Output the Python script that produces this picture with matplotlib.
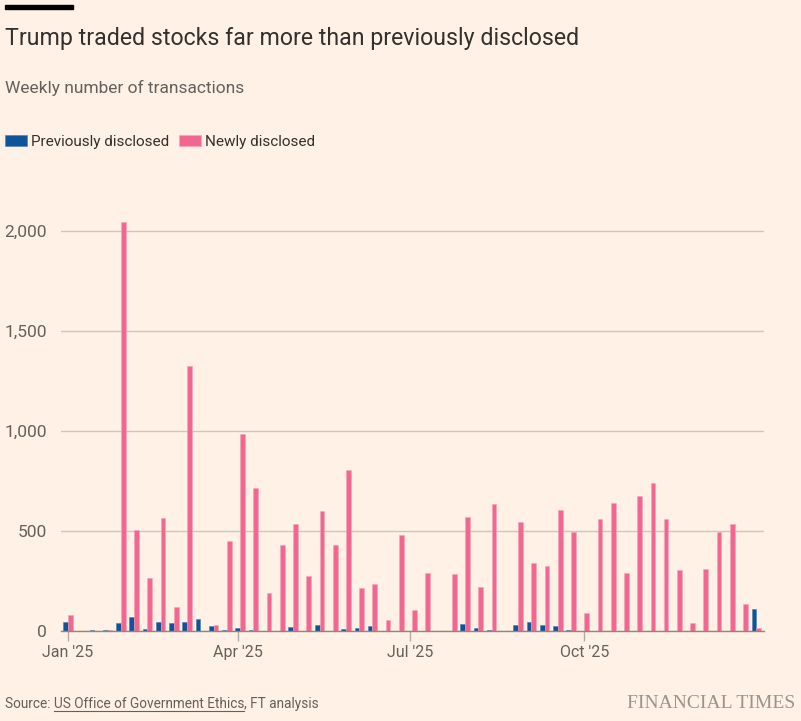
import numpy as np
import pandas as pd
import matplotlib
matplotlib.use("Agg")
import matplotlib.pyplot as plt
import matplotlib.dates as mdates

# weekly counts, weeks starting 1 Jan 2025
week_start = pd.date_range("2025-01-01", periods=53, freq="7D")
previously = [45, 2, 7, 7, 42, 70, 12, 43, 42, 47, 58, 25, 7, 15, 3, 1, 0, 18, 0, 32,
              2, 8, 17, 23, 0, 0, 0, 1, 1, 0, 37, 13, 7, 0, 32, 47, 30, 23, 5, 1,
              0, 0, 0, 0, 0, 0, 0, 0, 0, 0, 0, 0, 110]
newly = [80, 1, 0, 6, 2045, 505, 267, 565, 122, 1325, 0, 28, 452, 987, 717, 192, 430, 533,
         275, 598, 428, 803, 217, 237, 57, 482, 103, 292, 1, 283, 572, 220, 637, 0, 543,
         340, 327, 605, 495, 90, 562, 640, 290, 675, 740, 562, 305, 38, 310, 495, 535, 135, 17]
series_names = ["Previously disclosed", "Newly disclosed"]
y_ticks = [0, 500, 1000, 1500, 2000]
x_ticks = ["2025-01-01", "2025-04-01", "2025-07-01", "2025-10-01"]
x_tick_labels = ["Jan '25", "Apr '25", "Jul '25", "Oct '25"]

bg = "#FFF1E5"
blue = "#0F5499"
pink = "#F2678F"
text_dark = "#33302E"
text_mid = "#66605C"

plt.rcParams["font.family"] = ["Roboto", "DejaVu Sans"]

W, H = 801, 721
fig = plt.figure(figsize=(W / 100, H / 100), dpi=100, facecolor=bg)

# axes box in pixels
left, right, bottom, top = 61, 764, 631, 191
ax = fig.add_axes([left / W, 1 - bottom / H, (right - left) / W, (bottom - top) / H])
ax.set_facecolor(bg)

x = mdates.date2num(week_start)
bw = 2.5
ax.bar(x - bw / 2, previously, width=bw, color=blue, edgecolor="#4a7fb5",
       linewidth=0.4, label=series_names[0], zorder=3)
ax.bar(x + bw / 2, newly, width=bw, color=pink, edgecolor="#f7a3bb",
       linewidth=0.4, label=series_names[1], zorder=3)

ax.set_ylim(0, 2200)
ax.set_xlim(mdates.date2num(pd.Timestamp("2025-01-01")) - 3.7,
            mdates.date2num(pd.Timestamp("2026-01-04")))
ax.set_yticks(y_ticks)
ax.set_yticklabels([f"{v:,}" for v in y_ticks])
ax.yaxis.grid(True, color="#CEC6B9", linewidth=1, zorder=0)
ax.set_xticks(mdates.date2num(pd.to_datetime(x_ticks)))
ax.set_xticklabels(x_tick_labels)

for s in ["top", "right", "left"]:
    ax.spines[s].set_visible(False)
ax.spines["bottom"].set_color("#8f8780")
ax.spines["bottom"].set_linewidth(1)
ax.spines["bottom"].set_zorder(4)
ax.tick_params(axis="y", length=0, pad=10, labelsize=12.5, labelcolor=text_mid)
ax.tick_params(axis="x", length=7, width=1, color="#b3aba4", pad=3,
               labelsize=11.5, labelcolor=text_mid)

# header
fig.patches.append(plt.Rectangle((5 / W, 1 - 9 / H), 68 / W, 4 / H,
                                 transform=fig.transFigure, color="black"))
fig.text(5 / W, 1 - 38 / H, "Trump traded stocks far more than previously disclosed",
         fontsize=16.7, color=text_dark, va="center", ha="left")
fig.text(5 / W, 1 - 88 / H, "Weekly number of transactions",
         fontsize=12.5, color=text_mid, va="center", ha="left")

fig.legend(loc="center left", bbox_to_anchor=(5 / W, 1 - 142 / H), ncol=2,
           frameon=False, fontsize=11, handlelength=1.45, handleheight=0.7,
           handletextpad=0.27, columnspacing=0.6, labelcolor=text_dark,
           borderpad=0, borderaxespad=0)

# footer
fig.canvas.draw()
r = fig.canvas.get_renderer()
fy = 1 - 704 / H
parts = [("Source: ", False), ("US Office of Government Ethics", True), (", FT analysis", False)]
px = 5
for txt, underline in parts:
    t = fig.text(px / W, fy, txt, fontsize=9.8, color=text_mid, va="center", ha="left")
    bb = t.get_window_extent(r)
    if underline:
        fig.lines.append(plt.Line2D([px / W, (px + bb.width) / W],
                                    [1 - 711 / H, 1 - 711 / H],
                                    transform=fig.transFigure, color=text_mid, linewidth=0.8))
    px += bb.width
fig.text(795 / W, 1 - 703 / H, "FINANCIAL TIMES", fontsize=14, color="#9a948f",
         family="Liberation Serif", va="center", ha="right")

fig.savefig("out.png", dpi=100, facecolor=bg)
